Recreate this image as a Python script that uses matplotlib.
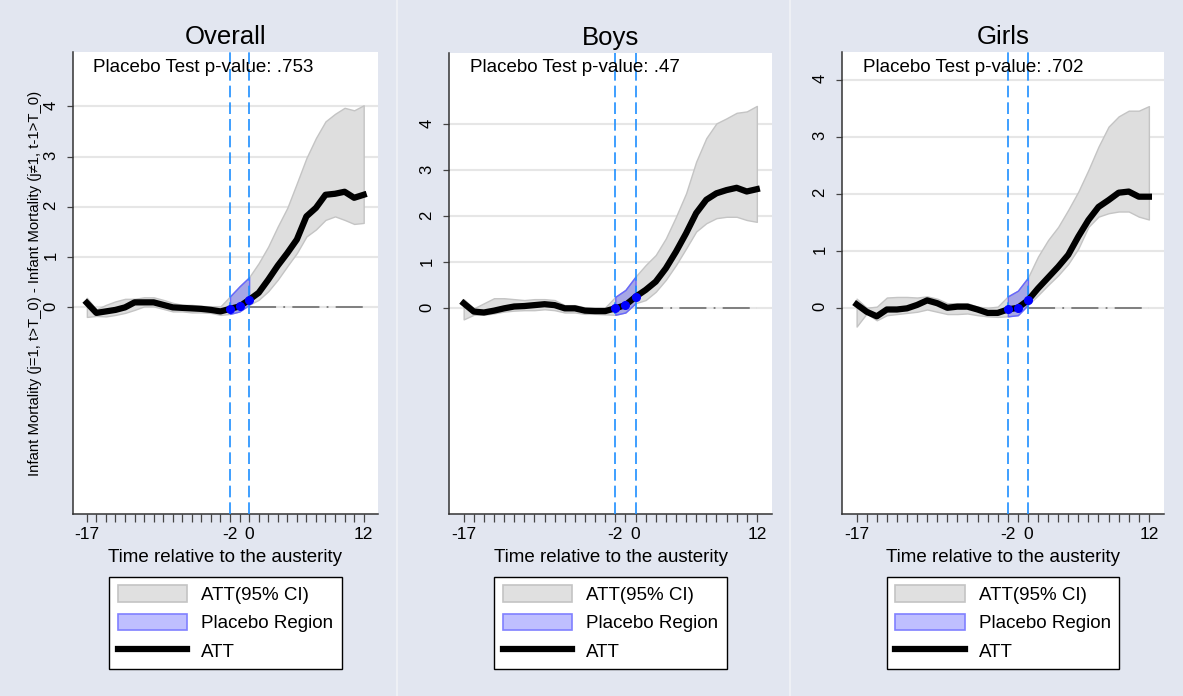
import matplotlib.pyplot as plt
import numpy as np
from matplotlib.patches import Patch
from matplotlib.lines import Line2D

plt.rcParams['font.family'] = ['Liberation Sans', 'DejaVu Sans']
plt.rcParams['axes.unicode_minus'] = False

# event time relative to the austerity
time = np.arange(-17, 13)
placebo_time = [-2, -1, 0]

titles = ['Overall', 'Boys', 'Girls']
pvalues = ['.753', '.47', '.702']
xtick_vals = [-17, -2, 0, 12]
ytick_vals = [0, 1, 2, 3, 4]
legend_labels = ['ATT(95% CI)', 'Placebo Region', 'ATT']

att_overall = [0.09, -0.11, -0.08, -0.05, 0.0, 0.1, 0.1, 0.1, 0.05, 0.0,
               -0.01, -0.02, -0.03, -0.05, -0.08, -0.03, 0.02, 0.15, 0.29, 0.55,
               0.83, 1.08, 1.35, 1.81, 1.98, 2.24, 2.26, 2.3, 2.18, 2.24]
upper_overall = [0.19, -0.04, 0.05, 0.12, 0.17, 0.17, 0.2, 0.2, 0.15, 0.09,
                 0.05, 0.05, 0.03, 0.02, 0.02, 0.22, 0.42, 0.6, 0.88, 1.21,
                 1.61, 1.98, 2.47, 2.97, 3.37, 3.7, 3.85, 3.97, 3.92, 4.02]
lower_overall = [-0.19, -0.17, -0.18, -0.15, -0.11, -0.05, 0.02, 0.02, -0.03, -0.08,
                 -0.08, -0.1, -0.1, -0.11, -0.15, -0.13, -0.08, 0.05, 0.15, 0.32,
                 0.55, 0.82, 1.08, 1.41, 1.55, 1.74, 1.81, 1.74, 1.66, 1.68]

att_boys = [0.11, -0.07, -0.09, -0.05, 0.0, 0.04, 0.05, 0.07, 0.09, 0.07,
            0.0, 0.0, -0.05, -0.06, -0.06, 0.0, 0.07, 0.25, 0.4, 0.58,
            0.87, 1.23, 1.63, 2.07, 2.36, 2.5, 2.57, 2.62, 2.54, 2.59]
upper_boys = [0.2, 0.0, 0.11, 0.22, 0.22, 0.2, 0.18, 0.2, 0.2, 0.18,
              0.07, 0.07, 0.02, 0.02, 0.02, 0.25, 0.4, 0.69, 0.94, 1.16,
              1.52, 1.99, 2.5, 3.19, 3.7, 4.02, 4.13, 4.25, 4.28, 4.4]
lower_boys = [-0.24, -0.14, -0.14, -0.11, -0.07, -0.05, -0.04, -0.04, -0.02, -0.04,
              -0.09, -0.09, -0.12, -0.12, -0.13, -0.14, -0.09, 0.11, 0.18, 0.36,
              0.62, 0.94, 1.3, 1.67, 1.85, 1.96, 1.99, 1.99, 1.92, 1.88]

att_girls = [0.06, -0.07, -0.15, -0.03, -0.03, -0.01, 0.05, 0.13, 0.08, 0.0,
             0.02, 0.02, -0.03, -0.09, -0.09, -0.03, 0.0, 0.13, 0.34, 0.53,
             0.72, 0.93, 1.25, 1.54, 1.77, 1.89, 2.02, 2.04, 1.95, 1.95]
upper_girls = [0.16, 0.0, 0.02, 0.18, 0.19, 0.19, 0.18, 0.2, 0.16, 0.08,
               0.08, 0.08, 0.02, 0.0, 0.02, 0.2, 0.3, 0.53, 0.9, 1.19,
               1.42, 1.72, 2.04, 2.42, 2.83, 3.18, 3.36, 3.46, 3.46, 3.54]
lower_girls = [-0.33, -0.1, -0.22, -0.13, -0.11, -0.09, -0.07, -0.03, -0.07, -0.11,
               -0.11, -0.1, -0.13, -0.15, -0.16, -0.15, -0.13, 0.05, 0.22, 0.4,
               0.57, 0.77, 1.04, 1.42, 1.6, 1.66, 1.69, 1.69, 1.6, 1.55]

att_all = [att_overall, att_boys, att_girls]
upper_all = [upper_overall, upper_boys, upper_girls]
lower_all = [lower_overall, lower_boys, lower_girls]

W, H = 1183, 696
bg = '#E2E6F0'
# axes boxes in pixels: left, right, top, bottom
boxes = [(73, 378, 52, 514), (449, 772, 53, 514), (842, 1164, 52, 514)]
ylims = [(-4.11, 5.08), (-4.47, 5.55), (-3.62, 4.49)]
xlim = (-18.45, 13.5)

fig = plt.figure(figsize=(W / 100, H / 100), dpi=100)
fig.patch.set_facecolor(bg)

# light separators between the combined graphs
for xp in [397, 790]:
    fig.add_artist(Line2D([xp / W, xp / W], [0, 1], transform=fig.transFigure,
                          color='#EEF0F5', lw=1.5))

handles = [Patch(facecolor='#E0E0E0', edgecolor='#C4C4C4', lw=1.2),
           Patch(facecolor=(0, 0, 1, 0.25), edgecolor=(0.5, 0.5, 1), lw=1.2),
           Line2D([], [], color='black', lw=4.5)]

for i in range(3):
    l, r, t, b = boxes[i]
    ax = fig.add_axes([l / W, 1 - b / H, (r - l) / W, (b - t) / H])
    att = np.array(att_all[i])
    up = np.array(upper_all[i])
    lo = np.array(lower_all[i])

    ax.set_xlim(xlim)
    ax.set_ylim(ylims[i])
    for yv in ytick_vals:
        ax.axhline(yv, color='#E6E6E6', lw=1.5, zorder=0)

    # confidence band
    ax.fill_between(time, lo, up, facecolor='#DEDEDE', edgecolor='#C4C4C4', lw=1, zorder=1)
    # placebo region
    pm = (time >= -2) & (time <= 0)
    ax.fill_between(time[pm], lo[pm], up[pm], facecolor=(0, 0, 1, 0.25),
                    edgecolor=(0.4, 0.4, 1), lw=1, zorder=2)

    ax.plot([0, 12], [0, 0], color='#777777', lw=1.3, dashes=(15, 4, 1, 4), zorder=2)
    for xv in [-2, 0]:
        ax.axvline(xv, color='#1E8FFF', lw=1.2, dashes=(7, 3), zorder=3)

    ax.plot(time, att, color='black', lw=4.5, solid_joinstyle='round', zorder=4)
    ax.plot(placebo_time, att[pm], 'o', color='#0000FF', ms=5.5, zorder=5)

    ax.spines['top'].set_visible(False)
    ax.spines['right'].set_visible(False)
    for s in ['left', 'bottom']:
        ax.spines[s].set_color('#333333')
        ax.spines[s].set_linewidth(1.1)

    ax.set_xticks(xtick_vals)
    ax.set_xticks(time, minor=True)
    ax.tick_params(axis='x', which='both', length=5.5, width=0.9, color='#444444',
                   labelsize=12.5, pad=4)
    ax.set_yticks(ytick_vals)
    ax.tick_params(axis='y', length=4.5, width=0.9, color='#444444', labelsize=12,
                   labelrotation=90, pad=6)

    ax.text(0.5, 1 + (52 - 44) / (b - t), titles[i], transform=ax.transAxes,
            ha='center', va='baseline', fontsize=18.5)
    ax.text(0.066, 1 - (71.5 - t) / (b - t), 'Placebo Test p-value: ' + pvalues[i],
            transform=ax.transAxes, ha='left', va='baseline', fontsize=13.5)
    ax.text(0.5, -(562.5 - b) / (b - t), 'Time relative to the austerity',
            transform=ax.transAxes, ha='center', va='baseline', fontsize=13.5)

    leg = ax.legend(handles, legend_labels, loc='upper center',
                    bbox_to_anchor=((l + r) / 2 / W, 1 - 577 / H),
                    bbox_transform=fig.transFigure, borderaxespad=0,
                    fontsize=13.5, frameon=True,
                    fancybox=False, edgecolor='black', framealpha=1,
                    handlelength=3.7, handleheight=1.0, handletextpad=0.75,
                    labelspacing=0.5, borderpad=0.45)
    leg.get_frame().set_linewidth(1.0)

fig.text(35 / W, 1 - 283 / H,
         'Infant Mortality (j=1, t>T_0) - Infant Mortality (j\u22601, t-1>T_0)',
         rotation=90, ha='center', va='center', fontsize=10.7)

fig.savefig('out.png', dpi=100, facecolor=bg)
